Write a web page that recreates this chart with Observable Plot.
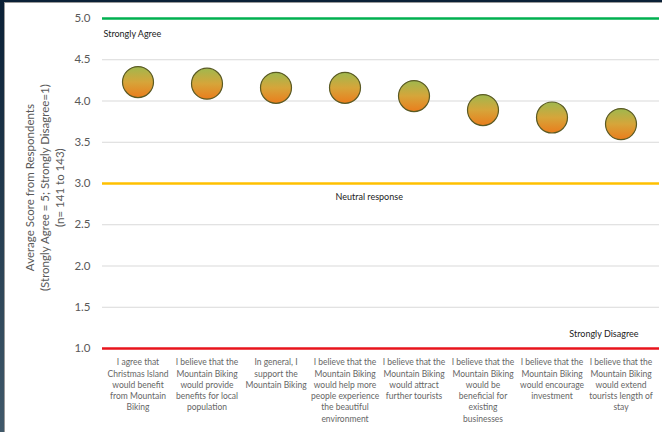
<!DOCTYPE html>
<html>
<head>
<meta charset="utf-8">
<script src="https://cdn.jsdelivr.net/npm/d3@7"></script>
<script src="https://cdn.jsdelivr.net/npm/@observablehq/plot@0.6"></script>
<style>
  html, body { margin: 0; padding: 0; background: #fff; width: 662px; height: 432px; overflow: hidden; }
  #wrap { position: relative; width: 662px; height: 432px; }
  #chart svg { display: block; font-family: Lato, "Open Sans", sans-serif; }
  .edgeL { position: absolute; left: 0; top: 0; width: 4px; height: 432px; background: linear-gradient(#0a2036, #40596a); }
  .edgeT { position: absolute; left: 0; top: 0; width: 662px; height: 2px; background: #0b2137; }
  .lineL { position: absolute; left: 4px; top: 2px; width: 1px; height: 430px; background: #9a9a9a; }
  .lineT { position: absolute; left: 4px; top: 2px; width: 658px; height: 1px; background: #9a9a9a; }
</style>
</head>
<body>
<div id="wrap">
  <div id="chart"></div>
  <div class="edgeL"></div><div class="edgeT"></div><div class="lineL"></div><div class="lineT"></div>
</div>
<script>
const categories = [
  "I agree that\nChristmas Island\nwould benefit\nfrom Mountain\nBiking",
  "I believe that the\nMountain Biking\nwould provide\nbenefits for local\npopulation",
  "In general, I\nsupport the\nMountain Biking",
  "I believe that the\nMountain Biking\nwould help more\npeople experience\nthe beautiful\nenvironment",
  "I believe that the\nMountain Biking\nwould attract\nfurther tourists",
  "I believe that the\nMountain Biking\nwould be\nbeneficial for\nexisting\nbusinesses",
  "I believe that the\nMountain Biking\nwould encourage\ninvestment",
  "I believe that the\nMountain Biking\nwould extend\ntourists length of\nstay"
];
const scores = [4.23, 4.21, 4.16, 4.16, 4.06, 3.89, 3.80, 3.72];
const yTicks = [1.0, 1.5, 2.0, 2.5, 3.0, 3.5, 4.0, 4.5, 5.0];
const gridValues = [1.5, 2.0, 2.5, 3.5, 4.0, 4.5];
const refLines = [
  {value: 5.0, label: "Strongly Agree", color: "#00b050"},
  {value: 3.0, label: "Neutral response", color: "#ffc000"},
  {value: 1.0, label: "Strongly Disagree", color: "#e8141c"}
];
const yTitle = ["Average Score from Respondents", "(Strongly Agree = 5; Strongly Disagree=1)", "(n= 141 to 143)"];

const data = categories.map((c, i) => ({category: c, score: scores[i]}));

function gradientDefs() {
  const ns = "http://www.w3.org/2000/svg";
  const defs = document.createElementNS(ns, "defs");
  const lg = document.createElementNS(ns, "linearGradient");
  lg.setAttribute("id", "dotGrad");
  lg.setAttribute("x1", "0"); lg.setAttribute("y1", "0");
  lg.setAttribute("x2", "0"); lg.setAttribute("y2", "1");
  [["0%", "#9fb84e"], ["50%", "#d6a53a"], ["100%", "#ea7d1c"]].forEach(([o, c]) => {
    const s = document.createElementNS(ns, "stop");
    s.setAttribute("offset", o); s.setAttribute("stop-color", c);
    lg.appendChild(s);
  });
  defs.appendChild(lg);
  return defs;
}

const chart = Plot.plot({
  width: 662,
  height: 432,
  marginLeft: 102,
  marginRight: 3,
  marginTop: 18,
  marginBottom: 84,
  style: {fontFamily: "Lato, 'Open Sans', sans-serif", background: "#fff"},
  x: {type: "band", domain: categories, range: [102, 656], padding: 0},
  y: {domain: [1, 5]},
  marks: [
    () => gradientDefs(),
    Plot.ruleY(gridValues, {stroke: "#d9d9d9", strokeWidth: 1}),
    Plot.ruleY(refLines, {y: "value", stroke: "color", strokeWidth: 2.5}),
    Plot.axisY({ticks: yTicks, tickFormat: d => d.toFixed(1), tickSize: 0, tickPadding: 12, fontSize: 11.5, color: "#595959", label: null}),
    Plot.axisX({tickSize: 0, tickPadding: 9, fontSize: 8.5, lineHeight: 1.32, color: "#666", label: null, tickFormat: d => d}),
    Plot.text([refLines[0]], {y: 4.81, text: "label", frameAnchor: "left", dx: 1, textAnchor: "start", fontSize: 9, fill: "#222"}),
    Plot.text([refLines[1]], {y: 2.83, text: "label", frameAnchor: "left", dx: 233, textAnchor: "start", fontSize: 9, fill: "#222"}),
    Plot.text([refLines[2]], {y: 1.18, text: "label", frameAnchor: "right", dx: -21, textAnchor: "end", fontSize: 9, fill: "#222"}),
    Plot.text([yTitle.join("\n")], {frameAnchor: "left", y: 2.95, dx: -58, rotate: -90, text: d => d, textAnchor: "middle", lineAnchor: "middle", lineHeight: 1.3, fontSize: 11.5, fill: "#595959"}),
    Plot.dot(data, {x: "category", y: "score", r: 15.5, fill: "url(#dotGrad)", stroke: "#5a5a24", strokeWidth: 1.2})
  ]
});
document.getElementById("chart").appendChild(chart);
</script>
</body>
</html>
